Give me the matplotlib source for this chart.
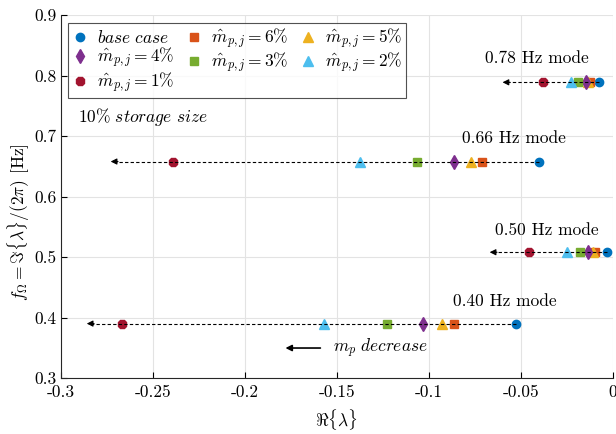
import matplotlib
matplotlib.use("Agg")
import matplotlib.pyplot as plt

plt.rcParams["font.family"] = "serif"
plt.rcParams["font.serif"] = ["cmr10"]
plt.rcParams["mathtext.fontset"] = "cm"
plt.rcParams["axes.unicode_minus"] = False
plt.rcParams["axes.formatter.use_mathtext"] = True

# series order: base case, 6%, 5%, 4%, 3%, 2%, 1%
labels = [
    r"$\mathit{base\ case}$",
    r"$\hat{m}_{p,j} = 6\%$",
    r"$\hat{m}_{p,j} = 5\%$",
    r"$\hat{m}_{p,j} = 4\%$",
    r"$\hat{m}_{p,j} = 3\%$",
    r"$\hat{m}_{p,j} = 2\%$",
    r"$\hat{m}_{p,j} = 1\%$",
]
colors = ["#0072BD", "#D95319", "#EDB120", "#7E2F8E", "#77AC30", "#4DBEEE", "#A2142F"]
markers = ["o", "s", "^", "d", "s", "^", "8"]
sizes = [6, 5.5, 7, 7, 5.5, 7, 7]

# modes: name, imag part, real parts per series, arrow tip
mode_names = ["0.78 Hz mode", "0.66 Hz mode", "0.50 Hz mode", "0.40 Hz mode"]
mode_freq = [0.789, 0.658, 0.508, 0.390]
mode_real = [
    [-0.0074, -0.0125, -0.0136, -0.0148, -0.019, -0.0228, -0.038],
    [-0.040, -0.0712, -0.077, -0.0864, -0.1065, -0.1375, -0.239],
    [-0.0033, -0.0098, -0.0109, -0.0138, -0.018, -0.025, -0.0457],
    [-0.0525, -0.0864, -0.093, -0.103, -0.123, -0.157, -0.267],
]
arrow_tip = [-0.060, -0.273, -0.067, -0.286]
label_pos = [(-0.0696, 0.829), (-0.082, 0.697), (-0.064, 0.545), (-0.087, 0.426)]

fig = plt.figure(figsize=(6.16, 4.34), dpi=100)
ax = fig.add_axes([0.099, 0.129, 0.896, 0.836])

fs = 12.5

for k in range(len(mode_names)):
    y = mode_freq[k]
    base = mode_real[k][0]
    ax.plot([base, arrow_tip[k] + 0.002], [y, y], "k--", lw=0.8, zorder=4, dashes=(3, 2))
    ax.annotate("", xy=(arrow_tip[k], y), xytext=(arrow_tip[k] + 0.004, y),
                arrowprops=dict(arrowstyle="-|>", color="k", lw=0.8,
                                shrinkA=0, shrinkB=0, mutation_scale=9),
                zorder=4)
    ax.text(label_pos[k][0], label_pos[k][1], mode_names[k], fontsize=fs, va="center")

handles = []
for i in range(len(labels)):
    xs = [mode_real[k][i] for k in range(len(mode_names))]
    h, = ax.plot(xs, mode_freq, linestyle="none", marker=markers[i], ms=sizes[i],
                 color=colors[i], label=labels[i], zorder=3)
    handles.append(h)

ax.text(-0.291, 0.731, r"$10\%\ \mathit{storage\ size}$", fontsize=fs, va="center")
ax.annotate("", xy=(-0.178, 0.3496), xytext=(-0.159, 0.3496),
            arrowprops=dict(arrowstyle="-|>", color="k", lw=1.2,
                            shrinkA=0, shrinkB=0, mutation_scale=9))
ax.text(-0.152, 0.3496, r"$m_p\ \mathit{decrease}$", fontsize=fs, va="center")

ax.set_xlim(-0.3, 0)
ax.set_ylim(0.3, 0.9)
xt = [-0.3, -0.25, -0.2, -0.15, -0.1, -0.05, 0]
ax.set_xticks(xt)
ax.set_xticklabels(["-0.3", "-0.25", "-0.2", "-0.15", "-0.1", "-0.05", "0"], fontsize=fs)
yt = [0.3, 0.4, 0.5, 0.6, 0.7, 0.8, 0.9]
ax.set_yticks(yt)
ax.set_yticklabels(["0.3", "0.4", "0.5", "0.6", "0.7", "0.8", "0.9"], fontsize=fs)
ax.tick_params(direction="in", length=4, width=0.8)
ax.tick_params(axis="x", pad=5)
ax.tick_params(axis="y", pad=3)
ax.grid(True, color="#e3e3e3", lw=0.8)
ax.set_axisbelow(True)
for s in ["top", "right"]:
    ax.spines[s].set_visible(False)
for s in ["left", "bottom"]:
    ax.spines[s].set_color("#262626")
    ax.spines[s].set_linewidth(0.8)

ax.set_xlabel(r"$\Re\{\lambda\}$", fontsize=fs, labelpad=5)
ax.set_ylabel(r"$f_\Omega = \Im\{\lambda\}/(2\pi)$ [Hz]", fontsize=fs)
ax.yaxis.set_label_coords(-0.052, 0.43)

# legend is filled row by row in the reference
order = [0, 3, 6, 1, 4, 2, 5]
leg = ax.legend([handles[i] for i in order], [labels[i] for i in order],
                ncol=3, loc="upper left", bbox_to_anchor=(0.012, 0.978),
                fontsize=fs, frameon=True, fancybox=False, edgecolor="#262626",
                handlelength=1.0, handletextpad=0.5, columnspacing=0.6,
                borderpad=0.2, labelspacing=0.02, borderaxespad=0)
leg.get_frame().set_linewidth(0.8)

fig.savefig("out.png", dpi=100)
